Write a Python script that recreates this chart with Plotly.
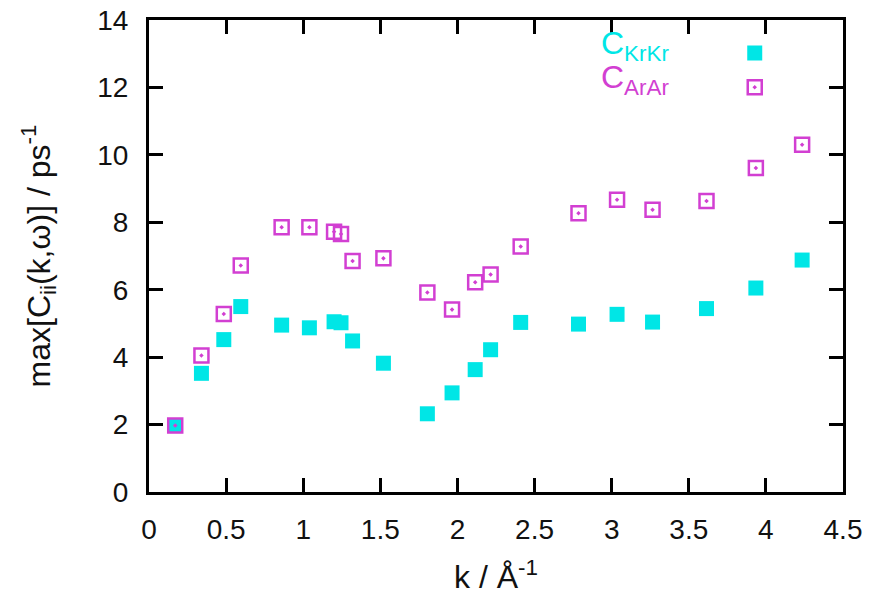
import plotly.graph_objects as go

# Wave vector k (1/Angstrom) at which the spectra were evaluated
k_values = [0.17, 0.34, 0.485, 0.595, 0.86, 1.04, 1.20, 1.245, 1.32, 1.52,
            1.805, 1.965, 2.115, 2.215, 2.41, 2.785, 3.035, 3.265, 3.615, 3.935, 4.235]

# Maximum of the current correlation spectra (1/ps)
c_krkr = [1.97, 3.52, 4.52, 5.50, 4.95, 4.87, 5.05, 5.02, 4.48, 3.82,
          2.32, 2.94, 3.63, 4.22, 5.03, 4.98, 5.27, 5.04, 5.44, 6.05, 6.88]
c_arar = [1.97, 4.05, 5.28, 6.72, 7.85, 7.85, 7.72, 7.65, 6.85, 6.93,
          5.92, 5.41, 6.22, 6.45, 7.28, 8.27, 8.67, 8.37, 8.63, 9.61, 10.30]

series_labels = ["C<sub>KrKr</sub>", "C<sub>ArAr</sub>"]

x_ticks = [0, 0.5, 1, 1.5, 2, 2.5, 3, 3.5, 4, 4.5]
y_ticks = [0, 2, 4, 6, 8, 10, 12, 14]

CYAN = "#00e6e6"
MAGENTA = "#d23fd2"
FONT = "Liberation Sans, Arial, sans-serif"

fig = go.Figure()
fig.add_trace(go.Scatter(
    x=k_values, y=c_krkr, mode="markers", name=" ",
    marker=dict(symbol="square", size=15, color=CYAN, line=dict(width=0)),
))
fig.add_trace(go.Scatter(
    x=k_values, y=c_arar, mode="markers", name=" ",
    marker=dict(symbol="square-open-dot", size=14, color=MAGENTA,
                line=dict(width=2.5, color=MAGENTA)),
))

# key labels sit to the left of the legend symbols
label_y = [0.946, 0.874]
for text, color, yy in zip(series_labels, [CYAN, MAGENTA], label_y):
    fig.add_annotation(
        x=0.648, y=yy, xref="paper", yref="paper", xanchor="left", yanchor="middle",
        text=text, showarrow=False, font=dict(family=FONT, size=32, color=color),
    )

axis_common = dict(
    showline=True, linecolor="black", linewidth=3, mirror="allticks",
    ticks="inside", ticklen=14, tickwidth=3, tickcolor="black",
    showgrid=False, zeroline=False, automargin=False,
    tickfont=dict(family=FONT, size=28, color="#111111"),
)

fig.update_layout(
    width=877, height=595,
    margin=dict(l=149, r=34, t=20, b=103),
    paper_bgcolor="white", plot_bgcolor="white",
    showlegend=True,
    legend=dict(x=0.844, y=0.977, xanchor="left", yanchor="top",
                bgcolor="rgba(0,0,0,0)", font=dict(family=FONT, size=24),
                traceorder="normal"),
    xaxis=dict(range=[0, 4.5], tickvals=x_ticks, ticklabelstandoff=10,
               title=dict(text="k / Å<sup>-1</sup>", standoff=24,
                          font=dict(family=FONT, size=32, color="#111111")),
               **axis_common),
    yaxis=dict(range=[0, 14], tickvals=y_ticks, ticklabelstandoff=12,
               title=dict(text="max[C<sub>ii</sub>(k,ω)] / ps<sup>-1</sup>", standoff=38,
                          font=dict(family=FONT, size=32, color="#111111")),
               **axis_common),
)

fig.write_html("out.html")
